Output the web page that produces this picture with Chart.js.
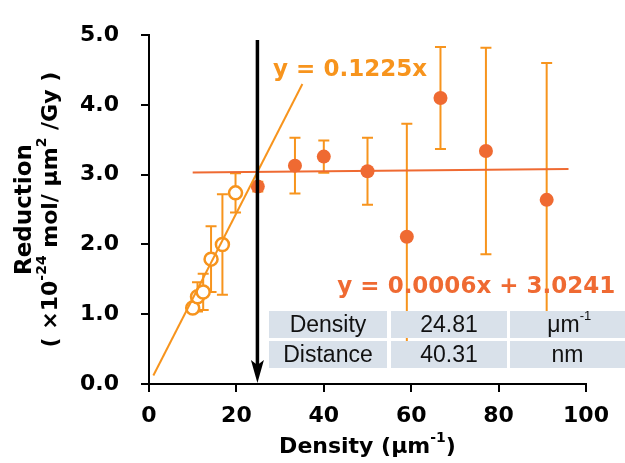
<!DOCTYPE html>
<html>
<head>
<meta charset="utf-8">
<script src="https://cdn.jsdelivr.net/npm/chart.js@4"></script>
<style>
  body { margin: 0; background: #fff; }
  #wrap { width: 625px; height: 463px; }
</style>
</head>
<body>
<div id="wrap"><canvas id="reductionChart" width="625" height="463"></canvas></div>
<script>
// open circles (low density)
const densityOpen = [10.0, 11.1, 12.4, 14.2, 16.8, 19.8];
const reductionOpen = [1.09, 1.25, 1.32, 1.79, 2.00, 2.74];
const errorOpen = [0.05, 0.21, 0.26, 0.47, 0.72, 0.28];

// filled circles (high density)
const densityFilled = [24.9, 33.4, 40.0, 50.0, 59.0, 66.7, 77.1, 91.0];
const reductionFilled = [2.83, 3.13, 3.26, 3.05, 2.11, 4.10, 3.34, 2.64];
const errorFilled = [0.07, 0.40, 0.23, 0.48, 1.62, 0.73, 1.48, 1.96];

// fitted lines: slope, intercept, x range
const fitLinear = { slope: 0.1225, intercept: 0, from: 1.0, to: 35.1, label: 'y = 0.1225x' };
const fitFlat = { slope: 0.0006, intercept: 3.0241, from: 10.0, to: 96.0, label: 'y = 0.0006x + 3.0241' };

// crossing point
const crossDensity = 24.81;
const arrowTop = 4.93;

// table
const tableLabels = ['Density', 'Distance'];
const tableValues = ['24.81', '40.31'];
const tableUnits = ['μm', 'nm'];

const xTicks = [0, 20, 40, 60, 80, 100];
const yTicks = [0, 1, 2, 3, 4, 5];

const ORANGE = '#F7941D';
const RED = '#EF6A32';
const BOLD = '"DejaVu Sans", Verdana, sans-serif';

function toPoints(xs, ys) {
  return xs.map((x, i) => ({ x: x, y: ys[i] }));
}

function fitPoints(fit) {
  return [
    { x: fit.from, y: fit.slope * fit.from + fit.intercept },
    { x: fit.to, y: fit.slope * fit.to + fit.intercept }
  ];
}

// text made of pieces, some of them superscript; drawn centred on (0, y)
function drawRich(ctx, parts, y, size) {
  const supSize = Math.round(size * 0.62);
  let total = 0;
  parts.forEach(p => {
    ctx.font = 'bold ' + (p.sup ? supSize : size) + 'px ' + BOLD;
    p.w = ctx.measureText(p.t).width;
    total += p.w;
  });
  let x = -total / 2;
  ctx.textAlign = 'left';
  parts.forEach(p => {
    ctx.font = 'bold ' + (p.sup ? supSize : size) + 'px ' + BOLD;
    ctx.fillText(p.t, x, p.sup ? y - size * 0.38 : y);
    x += p.w;
  });
}

// error bars drawn under the points
const errorBars = {
  id: 'errorBars',
  beforeDatasetsDraw(chart) {
    const ctx = chart.ctx;
    const xs = chart.scales.x, ys = chart.scales.y;
    const sets = [
      [densityOpen, reductionOpen, errorOpen],
      [densityFilled, reductionFilled, errorFilled]
    ];
    ctx.save();
    ctx.strokeStyle = ORANGE;
    ctx.lineWidth = 2;
    sets.forEach(([dx, dy, de]) => {
      dx.forEach((x, i) => {
        const px = xs.getPixelForValue(x);
        const top = ys.getPixelForValue(dy[i] + de[i]);
        const bot = ys.getPixelForValue(dy[i] - de[i]);
        ctx.beginPath();
        ctx.moveTo(px, top); ctx.lineTo(px, bot);
        ctx.moveTo(px - 5.5, top); ctx.lineTo(px + 5.5, top);
        ctx.moveTo(px - 5.5, bot); ctx.lineTo(px + 5.5, bot);
        ctx.stroke();
      });
    });
    ctx.restore();
  }
};

// arrow, equations, table and axis titles
const annotations = {
  id: 'annotations',
  afterDraw(chart) {
    const ctx = chart.ctx;
    const xs = chart.scales.x, ys = chart.scales.y;
    ctx.save();

    // table
    const colX = [269, 391, 510];
    const colW = [118, 116, 115];
    const rowY = [311, 341];
    const rowH = 27;
    const cell = '23px "Liberation Sans", Arial, sans-serif';
    ctx.fillStyle = '#D9E1EA';
    rowY.forEach(ry => colX.forEach((cx, j) => ctx.fillRect(cx, ry, colW[j], rowH)));
    ctx.fillStyle = '#111';
    ctx.font = cell;
    ctx.textAlign = 'center';
    ctx.textBaseline = 'middle';
    rowY.forEach((ry, i) => {
      const cy = ry + rowH / 2 + 1;
      ctx.fillText(tableLabels[i], colX[0] + colW[0] / 2, cy);
      ctx.fillText(tableValues[i], colX[1] + colW[1] / 2, cy);
      if (i === 0) {
        const w = ctx.measureText(tableUnits[i]).width;
        const cx = colX[2] + colW[2] / 2 - 4;
        ctx.fillText(tableUnits[i], cx, cy);
        ctx.font = '13px "Liberation Sans", Arial, sans-serif';
        ctx.textAlign = 'left';
        ctx.fillText('-1', cx + w / 2, cy - 9);
        ctx.font = cell;
        ctx.textAlign = 'center';
      } else {
        ctx.fillText(tableUnits[i], colX[2] + colW[2] / 2, cy);
      }
    });

    // arrow at crossing density
    const ax = xs.getPixelForValue(crossDensity);
    const aTop = ys.getPixelForValue(arrowTop);
    const aBot = ys.getPixelForValue(0);
    ctx.strokeStyle = '#000';
    ctx.fillStyle = '#000';
    ctx.lineWidth = 3.5;
    ctx.beginPath();
    ctx.moveTo(ax, aTop); ctx.lineTo(ax, aBot - 12);
    ctx.stroke();
    ctx.beginPath();
    ctx.moveTo(ax, aBot - 1);
    ctx.lineTo(ax - 6.5, aBot - 24);
    ctx.lineTo(ax, aBot - 19);
    ctx.lineTo(ax + 6.5, aBot - 24);
    ctx.closePath();
    ctx.fill();

    // equations
    ctx.textAlign = 'left';
    ctx.textBaseline = 'alphabetic';
    ctx.font = 'bold 23px ' + BOLD;
    ctx.fillStyle = ORANGE;
    ctx.fillText(fitLinear.label, xs.getPixelForValue(28.4), ys.getPixelForValue(4.42));
    ctx.fillStyle = RED;
    ctx.fillText(fitFlat.label, xs.getPixelForValue(43.1), ys.getPixelForValue(1.31));

    // axis titles
    ctx.fillStyle = '#000';
    ctx.textBaseline = 'middle';
    ctx.save();
    ctx.translate((chart.chartArea.left + chart.chartArea.right) / 2, 447);
    drawRich(ctx, [{ t: 'Density (μm' }, { t: '-1', sup: true }, { t: ')' }], 0, 22);
    ctx.restore();

    const midY = (chart.chartArea.top + chart.chartArea.bottom) / 2;
    ctx.translate(25, midY);
    ctx.rotate(-Math.PI / 2);
    drawRich(ctx, [{ t: 'Reduction' }], 0, 23);
    drawRich(ctx, [
      { t: '( ×10' }, { t: '-24', sup: true }, { t: ' mol/ μm' }, { t: '2', sup: true }, { t: ' /Gy )' }
    ], 26, 22);
    ctx.restore();
  }
};

const ctx = document.getElementById('reductionChart').getContext('2d');

const chart = new Chart(ctx, {
  type: 'scatter',
  data: {
    datasets: [
      {
        label: 'Linear fit',
        type: 'line',
        data: fitPoints(fitLinear),
        borderColor: ORANGE,
        borderWidth: 2,
        pointRadius: 0,
        fill: false
      },
      {
        label: 'Flat fit',
        type: 'line',
        data: fitPoints(fitFlat),
        borderColor: RED,
        borderWidth: 2,
        pointRadius: 0,
        fill: false
      },
      {
        label: 'Low density',
        data: toPoints(densityOpen, reductionOpen),
        backgroundColor: '#fff',
        borderColor: ORANGE,
        borderWidth: 2.5,
        pointRadius: 6.5
      },
      {
        label: 'High density',
        data: toPoints(densityFilled, reductionFilled),
        backgroundColor: RED,
        borderColor: RED,
        borderWidth: 0,
        pointRadius: 7
      }
    ]
  },
  options: {
    responsive: false,
    animation: false,
    devicePixelRatio: 1,
    layout: { padding: { top: 21, right: 39, left: 0, bottom: 0 } },
    scales: {
      x: {
        type: 'linear',
        min: 0,
        max: 100,
        afterBuildTicks: scale => { scale.ticks = xTicks.map(v => ({ value: v })); },
        afterFit: scale => { scale.height = 79; },
        border: { color: '#000', width: 2 },
        grid: { drawOnChartArea: false, drawTicks: true, tickLength: 8, color: '#000', lineWidth: 2 },
        ticks: {
          color: '#000',
          padding: 11,
          maxRotation: 0,
          font: { family: BOLD, size: 22, weight: 'bold' }
        }
      },
      y: {
        type: 'linear',
        min: 0,
        max: 5,
        afterBuildTicks: scale => { scale.ticks = yTicks.map(v => ({ value: v })); },
        afterFit: scale => { scale.width = 149; },
        border: { color: '#000', width: 2 },
        grid: { drawOnChartArea: false, drawTicks: true, tickLength: 8, color: '#000', lineWidth: 2 },
        ticks: {
          color: '#000',
          padding: 22,
          callback: v => v.toFixed(1),
          font: { family: BOLD, size: 22, weight: 'bold' }
        }
      }
    },
    plugins: {
      legend: { display: false },
      tooltip: { enabled: false }
    }
  },
  plugins: [errorBars, annotations]
});
</script>
</body>
</html>
